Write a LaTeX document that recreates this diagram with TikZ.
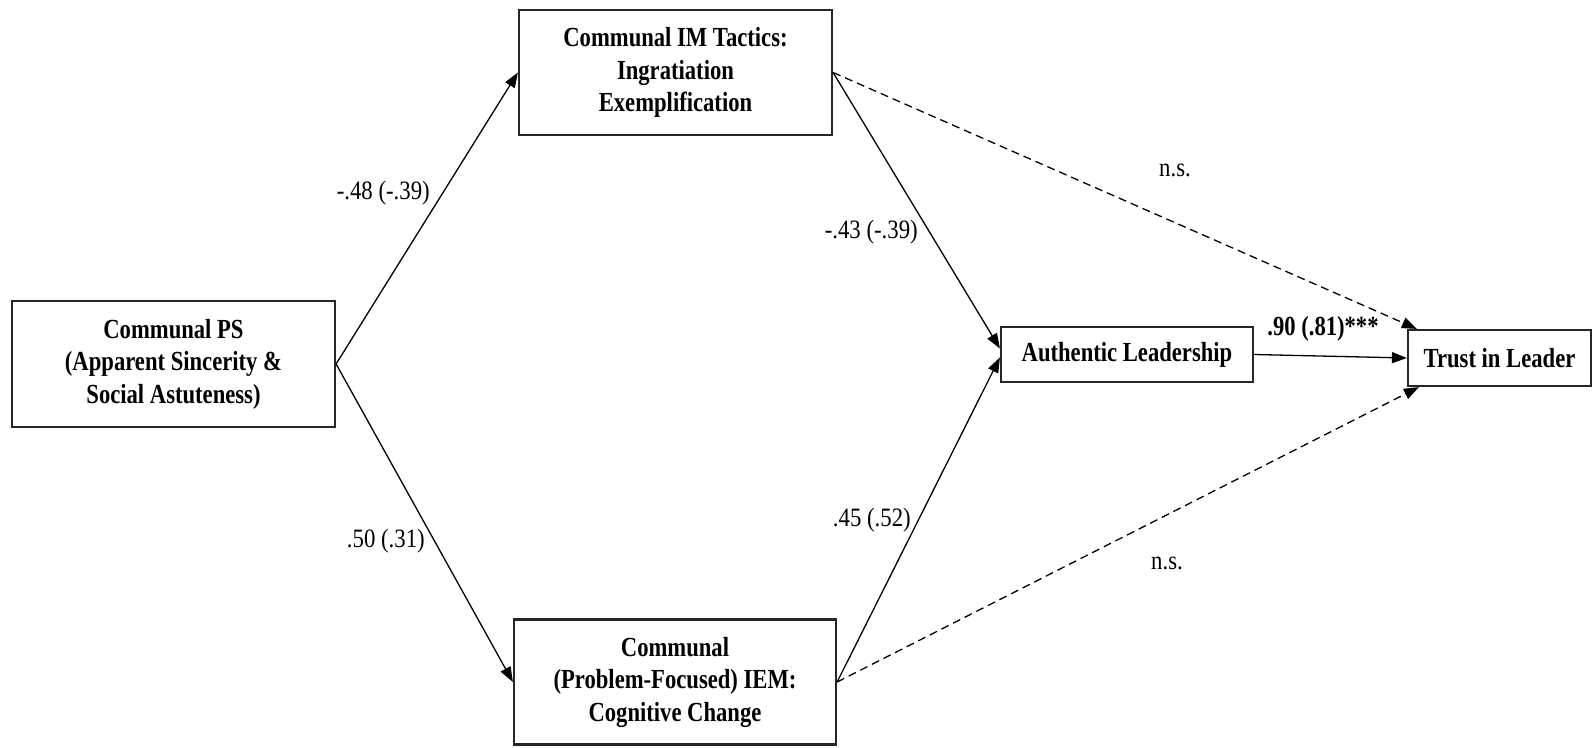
\documentclass[tikz,border=0pt]{standalone}
\usepackage{fontspec}
\setmainfont{Liberation Serif}
\newfontfamily\boxfont{Liberation Serif}[FakeStretch=0.82]
\newfontfamily\lblfont{Liberation Serif}[FakeStretch=0.86]
\usetikzlibrary{arrows.meta}
\tikzset{
  box/.style={draw=black!85, line width=2.2pt, fill=white, inner sep=0pt, align=center,
    font=\boxfont\bfseries\fontsize{27.6}{32.5}\selectfont},
  lbl/.style={inner sep=0pt, font=\lblfont\fontsize{26.5}{29}\selectfont},
  blbl/.style={inner sep=0pt, font=\boxfont\bfseries\fontsize{27.6}{31.7}\selectfont},
  conn/.style={line width=1.3pt, -{Triangle[length=15pt,width=11pt]}},
  dconn/.style={conn, dash pattern=on 8pt off 5pt}
}
\begin{document}
\begin{tikzpicture}[x=1pt,y=-1pt]
\useasboundingbox (0,0) rectangle (1593,747);
\node[box, minimum width=323pt, minimum height=126pt] (ps) at (173.5,364) {Communal PS\\(Apparent Sincerity \&\\Social Astuteness)};
\node[box, minimum width=313pt, minimum height=125pt] (im) at (675.5,72.5) {Communal IM Tactics:\\Ingratiation\\Exemplification};
\node[box, minimum width=322pt, minimum height=125pt] (iem) at (675,682) {Communal\\(Problem-Focused) IEM:\\Cognitive Change};
\node[box, minimum width=252pt, minimum height=55pt] (al) at (1127,354.5) {Authentic Leadership};
\node[box, minimum width=183pt, minimum height=56pt] (tl) at (1499.5,358) {Trust in Leader};

\draw[conn] (ps.east) -- (im.west);
\draw[conn] (ps.east) -- (iem.west);
\draw[conn] (im.east) -- ([yshift=6pt]al.west);
\draw[conn] (iem.east) -- ([yshift=-3pt]al.west);
\draw[conn] (al.east) -- (tl.west);
\draw[dconn] (im.east) -- ([xshift=10pt]tl.north west);
\draw[dconn] (iem.east) -- ([xshift=12pt]tl.south west);

\node[lbl, anchor=base east] (l1) at (430,199) {-.48 (-.39)};
\node[lbl, anchor=base east] (l2) at (425,547) {.50 (.31)};
\node[lbl, anchor=base east] (l3) at (918,238) {-.43 (-.39)};
\node[lbl, anchor=base east] (l4) at (911,526) {.45 (.52)};
\node[lbl, anchor=base] (l5) at (1175,176) {n.s.};
\node[lbl, anchor=base] (l6) at (1167,569) {n.s.};
\node[blbl, anchor=base] (l7) at (1323,335) {.90 (.81)***};
\end{tikzpicture}
\end{document}
